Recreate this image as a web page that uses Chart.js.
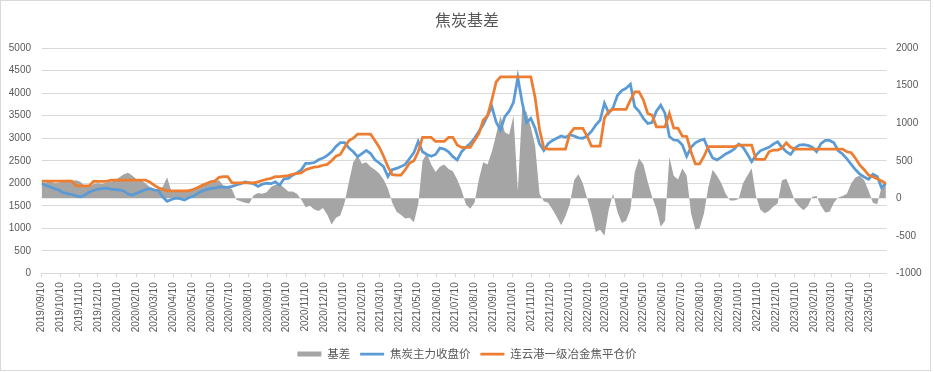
<!DOCTYPE html>
<html>
<head>
<meta charset="utf-8">
<script src="https://cdn.jsdelivr.net/npm/chart.js@4/dist/chart.umd.min.js"></script>
<style>
html,body{margin:0;padding:0;background:#fff;}
#wrap{width:934px;height:372px;}
</style>
</head>
<body>
<div id="wrap"><canvas id="c" width="934" height="372"></canvas></div>
<script>
const chartTitle = '焦炭基差';
const seriesNames = ['基差', '焦炭主力收盘价', '连云港一级冶金焦平仓价'];
const startDate = '2019-09-10';
const stepDays = 7;

const futures = [
  2000,1950,1920,1880,1850,1790,1770,1750,1720,1700,
  1740,1800,1840,1870,1880,1890,1870,1860,1850,1830,
  1760,1740,1780,1820,1860,1880,1850,1840,1700,1600,
  1640,1670,1660,1630,1680,1710,1770,1820,1860,1880,
  1890,1920,1915,1910,1930,1960,1990,2030,2010,1990,
  1930,1980,2000,1990,2030,1960,2100,2110,2180,2230,
  2300,2440,2440,2460,2520,2560,2620,2700,2820,2900,
  2900,2780,2700,2590,2660,2730,2660,2520,2450,2370,
  2150,2300,2330,2370,2420,2550,2680,2930,2700,2640,
  2600,2640,2780,2760,2700,2590,2520,2700,2800,2880,
  3000,3150,3300,3500,3700,3360,3180,3480,3600,3800,
  4350,3800,3350,3440,3220,2880,2730,2880,2950,3000,
  3050,3020,3080,3050,3010,3000,3050,3150,3290,3400,
  3780,3560,3680,3950,4060,4110,4200,3700,3600,3440,
  3330,3350,3600,3736,3550,3040,2960,2950,2850,2600,
  2800,2900,2950,2980,2750,2560,2520,2580,2650,2700,
  2760,2870,2800,2650,2480,2620,2720,2760,2800,2870,
  2920,2800,2700,2640,2780,2850,2860,2840,2800,2700,
  2880,2950,2950,2900,2720,2650,2540,2420,2300,2200,
  2140,2090,2200,2150,1900,2000
];

const spot = [
  2050,2050,2050,2050,2050,2050,2050,2050,1940,1940,
  1940,1940,2040,2040,2040,2040,2070,2070,2070,2070,
  2070,2070,2070,2070,2070,2030,1960,1900,1860,1830,
  1830,1830,1830,1830,1830,1860,1900,1950,1990,2030,
  2050,2130,2145,2145,2010,2010,2010,2010,2010,2010,
  2030,2060,2090,2110,2145,2145,2160,2170,2200,2220,
  2230,2300,2330,2360,2370,2400,2420,2500,2600,2640,
  2800,2950,3000,3090,3090,3090,3090,2950,2800,2600,
  2370,2190,2180,2180,2300,2450,2500,2700,3019,3019,
  3019,2930,2930,2930,3019,3019,2850,2796,2796,2796,
  2950,3100,3400,3500,3850,4250,4365,4365,4365,4365,
  4365,4365,4365,4365,3900,3200,2780,2760,2760,2760,
  2760,2760,3100,3220,3220,3220,3050,2826,2826,2826,
  3450,3600,3641,3641,3641,3641,3847,4032,4032,3850,
  3550,3514,3255,3255,3255,3552,3230,3220,3048,3040,
  2700,2430,2430,2600,2811,2811,2811,2811,2811,2811,
  2811,2848,2848,2848,2848,2530,2530,2530,2700,2738,
  2738,2780,2900,2800,2760,2760,2760,2760,2760,2760,
  2760,2760,2760,2760,2760,2760,2700,2680,2550,2400,
  2300,2182,2145,2100,2050,1998
];

const basis = [
  200,210,230,200,210,220,250,230,240,220,
  160,150,190,200,190,210,220,240,280,320,
  340,300,250,240,200,150,130,120,150,280,
  90,100,110,100,120,110,150,170,180,200,
  220,240,170,160,120,-20,-40,-60,-70,40,
  70,60,80,150,180,190,140,90,90,60,
  -20,-120,-100,-150,-170,-130,-220,-350,-260,-230,
  -60,220,480,570,460,480,420,380,330,250,
  130,-60,-180,-220,-270,-260,-320,-80,500,600,
  450,350,420,450,390,360,250,110,-80,-140,
  -60,250,480,450,620,850,1100,880,850,1100,
  100,1200,1150,950,700,60,-40,-60,-150,-250,
  -360,-240,-80,240,320,200,0,-200,-450,-420,
  -500,-150,60,-180,-330,-300,-150,350,530,450,
  220,20,-140,-380,-300,550,300,250,400,300,
  -200,-420,-400,-200,150,380,300,200,60,-30,
  -30,-10,200,300,400,30,-150,-200,-170,-110,
  -70,240,260,120,-40,-110,-160,-100,20,30,
  -100,-190,-180,-60,10,30,60,200,280,300,
  240,100,-60,-80,150,200
];

const tickLabels = [
  '2019/09/10','2019/10/10','2019/11/10','2019/12/10',
  '2020/01/10','2020/02/10','2020/03/10','2020/04/10','2020/05/10','2020/06/10',
  '2020/07/10','2020/08/10','2020/09/10','2020/10/10','2020/11/10','2020/12/10',
  '2021/01/10','2021/02/10','2021/03/10','2021/04/10','2021/05/10','2021/06/10',
  '2021/07/10','2021/08/10','2021/09/10','2021/10/10','2021/11/10','2021/12/10',
  '2022/01/10','2022/02/10','2022/03/10','2022/04/10','2022/05/10','2022/06/10',
  '2022/07/10','2022/08/10','2022/09/10','2022/10/10','2022/11/10','2022/12/10',
  '2023/01/10','2023/02/10','2023/03/10','2023/04/10','2023/05/10'
];

const leftTicks = { min: 0, max: 5000, step: 500 };
const rightTicks = { min: -1000, max: 2000, step: 500 };

// ---- helpers ----
function utc(s) {
  const p = s.split(/[-\/]/).map(Number);
  return Date.UTC(p[0], p[1] - 1, p[2]);
}
const t0 = utc(startDate);
const dayOf = s => (utc(s) - t0) / 86400000;
const tickDays = tickLabels.map(dayOf);
const dates = futures.map((_, i) => i * stepDays);
const xMax = dayOf('2023-06-07');
const pts = arr => arr.map((v, i) => ({ x: dates[i], y: v }));

const GRID = '#D9D9D9';
const TXT = '#595959';
const NUMFONT = "'Liberation Sans', Arial, sans-serif";
const CJKFONT = "'Noto Sans CJK SC', 'Noto Sans', sans-serif";
const LINE_W = 2.75;

const frame = {
  id: 'frame',
  beforeDraw(chart) {
    const c = chart.ctx;
    c.save();
    c.fillStyle = '#ffffff';
    c.fillRect(0, 0, chart.width, chart.height);
    c.restore();
  },
  afterDraw(chart) {
    const c = chart.ctx;
    c.save();
    c.strokeStyle = GRID;
    c.lineWidth = 1;
    c.strokeRect(0.5, 0.5, 930, 370);
    c.restore();
  }
};

new Chart(document.getElementById('c'), {
  type: 'line',
  data: {
    datasets: [
      {
        label: seriesNames[0], data: pts(basis), yAxisID: 'y1',
        borderColor: '#A5A5A5', backgroundColor: '#A5A5A5', borderWidth: 0,
        fill: 'origin', pointRadius: 0, tension: 0, order: 3, legendStyle: 'rect'
      },
      {
        label: seriesNames[1], data: pts(futures), yAxisID: 'y',
        borderColor: '#5B9BD5', backgroundColor: '#5B9BD5', borderWidth: LINE_W,
        fill: false, pointRadius: 0, tension: 0, order: 2, legendStyle: 'line'
      },
      {
        label: seriesNames[2], data: pts(spot), yAxisID: 'y',
        borderColor: '#ED7D31', backgroundColor: '#ED7D31', borderWidth: LINE_W,
        fill: false, pointRadius: 0, tension: 0, order: 1, legendStyle: 'line'
      }
    ]
  },
  options: {
    responsive: false,
    animation: false,
    devicePixelRatio: 1,
    layout: { padding: { left: 0, right: 0, top: 0, bottom: 2.2 } },
    plugins: {
      tooltip: { enabled: false },
      title: {
        display: true, text: chartTitle, color: TXT,
        font: { size: 16, family: CJKFONT, weight: 'normal' },
        padding: { top: 10, bottom: 19 }
      },
      legend: {
        display: true, position: 'bottom',
        labels: {
          color: TXT,
          font: { size: 11.5, family: CJKFONT },
          usePointStyle: true,
          pointStyleWidth: 24,
          boxHeight: 5,
          padding: 10,
          sort: (a, b) => a.datasetIndex - b.datasetIndex,
          generateLabels(chart) {
            const items = Chart.defaults.plugins.legend.labels.generateLabels(chart);
            items.forEach(it => {
              const ds = chart.data.datasets[it.datasetIndex];
              it.pointStyle = ds.legendStyle;
              if (ds.legendStyle === 'rect') { it.lineWidth = 0; it.fillStyle = ds.backgroundColor; }
              else { it.lineWidth = LINE_W; it.strokeStyle = ds.borderColor; }
            });
            return items;
          }
        }
      }
    },
    scales: {
      x: {
        type: 'linear', min: 0, max: xMax,
        afterBuildTicks: s => { s.ticks = tickDays.map(v => ({ value: v })); },
        afterFit: s => { s.height = 65; },
        ticks: {
          autoSkip: false, minRotation: 90, maxRotation: 90, padding: 5,
          color: TXT, font: { size: 10, family: NUMFONT },
          callback: (v, i) => tickLabels[i]
        },
        grid: { display: true, drawOnChartArea: false, drawTicks: true, tickLength: 4, color: GRID },
        border: { display: true, color: GRID }
      },
      y: {
        position: 'left', min: leftTicks.min, max: leftTicks.max,
        afterFit: s => { s.width = 41.5; },
        ticks: { stepSize: leftTicks.step, padding: 10.5, color: TXT, font: { size: 10, family: NUMFONT },
                 callback: v => String(v) },
        grid: { color: GRID, drawTicks: false },
        border: { display: false }
      },
      y1: {
        position: 'right', min: rightTicks.min, max: rightTicks.max,
        afterFit: s => { s.width = 47.5; },
        ticks: { stepSize: rightTicks.step, padding: 9.5, color: TXT, font: { size: 10, family: NUMFONT },
                 callback: v => String(v) },
        grid: { display: false, drawTicks: false },
        border: { display: false }
      }
    }
  },
  plugins: [frame]
});
</script>
</body>
</html>
